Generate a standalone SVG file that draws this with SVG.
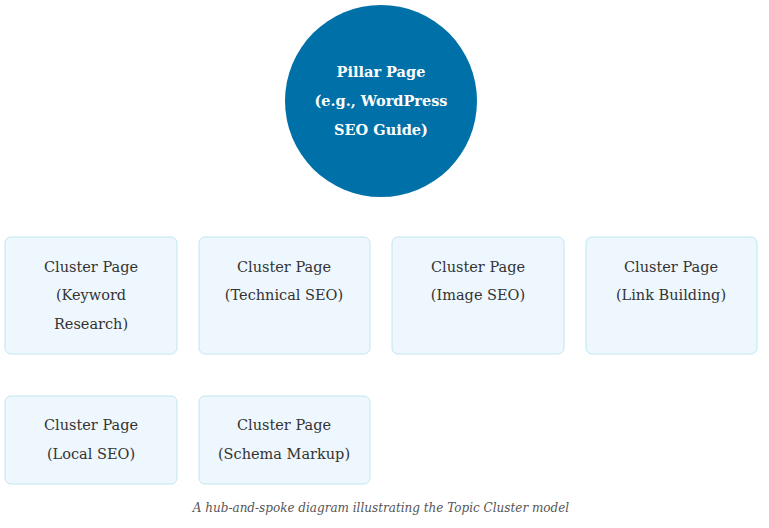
<svg xmlns="http://www.w3.org/2000/svg" width="769" height="528" viewBox="0 0 769 528">
<style>
.box{fill:#eef7fd;stroke:#bfe6f2;stroke-width:1}
.t{font-family:"DejaVu Serif","Liberation Serif",serif;font-size:14.5px;fill:#333;text-anchor:middle}
.p{font-family:"DejaVu Serif","Liberation Serif",serif;font-size:14.5px;font-weight:bold;fill:#fff;text-anchor:middle}
.c{font-family:"DejaVu Serif","Liberation Serif",serif;font-size:12px;font-style:italic;fill:#555;text-anchor:middle}
</style>
<rect width="769" height="528" fill="#fff"/>
<g id="pillar"><circle cx="381" cy="101" r="96" fill="#0071a8"/>
<text class="p" x="381" y="77">Pillar Page</text><text class="p" x="381" y="106">(e.g., WordPress</text><text class="p" x="381" y="135">SEO Guide)</text></g>
<g id="connectors"/>
<g id="c1"><rect class="box" x="5" y="237" width="172" height="117" rx="6"/><text class="t" x="91" y="272">Cluster Page</text><text class="t" x="91" y="300">(Keyword</text><text class="t" x="91" y="329">Research)</text></g>
<g id="c2"><rect class="box" x="199" y="237" width="171" height="117" rx="6"/><text class="t" x="284" y="272">Cluster Page</text><text class="t" x="284" y="300">(Technical SEO)</text></g>
<g id="c3"><rect class="box" x="392" y="237" width="172" height="117" rx="6"/><text class="t" x="478" y="272">Cluster Page</text><text class="t" x="478" y="300">(Image SEO)</text></g>
<g id="c4"><rect class="box" x="586" y="237" width="171" height="117" rx="6"/><text class="t" x="671" y="272">Cluster Page</text><text class="t" x="671" y="300">(Link Building)</text></g>
<g id="c5"><rect class="box" x="5" y="396" width="172" height="88" rx="6"/><text class="t" x="91" y="430">Cluster Page</text><text class="t" x="91" y="459">(Local SEO)</text></g>
<g id="c6"><rect class="box" x="199" y="396" width="171" height="88" rx="6"/><text class="t" x="284" y="430">Cluster Page</text><text class="t" x="284" y="459">(Schema Markup)</text></g>
<text class="c" x="381" y="512">A hub-and-spoke diagram illustrating the Topic Cluster model</text>
</svg>
